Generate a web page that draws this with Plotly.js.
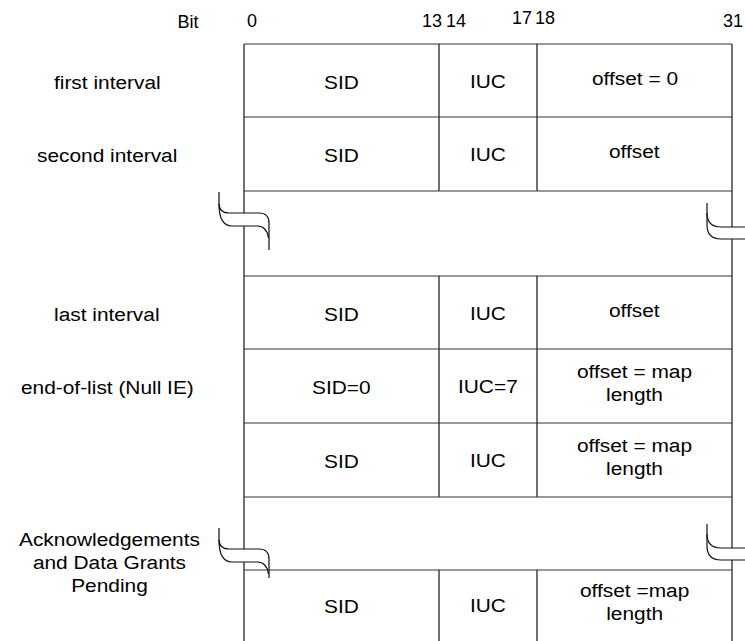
<!DOCTYPE html>
<html>
<head>
<meta charset="utf-8">
<script src="https://cdn.plot.ly/plotly-3.0.1.min.js"></script>
<style>
html,body{margin:0;padding:0;background:#fff;}
#chart{width:745px;height:641px;}
text.annotation-text{transform-box:fill-box;transform-origin:center;transform:scaleX(1.16);}
</style>
</head>
<body>
<div id="chart"></div>
<script>
// ---- data ----
const bitHeader = 'Bit';
const bitLabels = ['0', '13', '14', '17', '18', '31'];
const rowLabels = ['first interval', 'second interval', '', 'last interval', 'end-of-list (Null IE)', '', 'Acknowledgements<br>and Data Grants<br>Pending', ''];
const sidValues = ['SID', 'SID', null, 'SID', 'SID=0', 'SID', null, 'SID'];
const iucValues = ['IUC', 'IUC', null, 'IUC', 'IUC=7', 'IUC', null, 'IUC'];
const offsetValues = ['offset = 0', 'offset', null, 'offset', 'offset = map<br>length', 'offset = map<br>length', null, 'offset =map<br>length'];
const breakRows = [2, 6];

// ---- layout constants (pixel space) ----
const colEdges = [244, 439, 537, 732];
const rowEdges = [44, 117, 191, 276, 349, 423, 497, 570, 660];
const headerX = [188, 252, 432, 456, 522, 545, 733];
const headerY = [23, 22, 22, 22, 19, 19, 22];
const labelX = 107;
const FONT = 'Liberation Sans, Arial, sans-serif';
const FS = 18;
const LINE = '#111';

const shapes = [];
const annotations = [];

function line(x0, y0, x1, y1, color, w) {
  shapes.push({type: 'line', xref: 'x', yref: 'y', x0, y0, x1, y1,
    line: {color: color || LINE, width: w || 1.2}, layer: 'above'});
}
function text(x, y, t) {
  annotations.push({x, y, xref: 'x', yref: 'y', text: t, showarrow: false,
    font: {family: FONT, size: FS, color: '#000'}, xanchor: 'center', yanchor: 'middle'});
}

// rows
const nRows = rowEdges.length - 1;
for (let r = 0; r < nRows; r++) {
  const top = rowEdges[r], bot = rowEdges[r + 1];
  const cy = (top + bot) / 2;
  line(colEdges[0], top, colEdges[3], top, '#333');
  line(colEdges[0], top, colEdges[0], bot);
  line(colEdges[3], top, colEdges[3], bot);
  if (breakRows.indexOf(r) === -1) {
    line(colEdges[1], top, colEdges[1], bot);
    line(colEdges[2], top, colEdges[2], bot);
    const c = Math.min(cy, 605);
    if (sidValues[r]) text((colEdges[0] + colEdges[1]) / 2, c + 1, sidValues[r]);
    if (iucValues[r]) text((colEdges[1] + colEdges[2]) / 2, c, iucValues[r]);
    if (offsetValues[r]) text((colEdges[2] + colEdges[3]) / 2, c - 3, offsetValues[r]);
  }
  if (rowLabels[r] && r !== 6) text(labelX, cy + 1, rowLabels[r]);
}
// multi-line label beside the second break
text(labelX + 2, 562, rowLabels[6]);

// break symbols
function leftBreak(t, len) {
  shapes.push({type: 'path', xref: 'x', yref: 'y', layer: 'above', fillcolor: '#fff', line: {width: 0},
    path: `M 219,${t+11} Q 219,${t+21} 229,${t+21} L 259,${t+21} Q 269,${t+21} 269,${t+31} L 269,${t+46} Q 268,${t+34} 257,${t+34} L 232,${t+34} Q 219,${t+34} 219,${t+16} Z`});
  shapes.push({type: 'path', xref: 'x', yref: 'y', layer: 'above', line: {color: LINE, width: 1.2},
    path: `M 219,${t} L 219,${t+11} Q 219,${t+21} 229,${t+21} L 259,${t+21} Q 269,${t+21} 269,${t+31} L 269,${t+len}`});
  shapes.push({type: 'path', xref: 'x', yref: 'y', layer: 'above', line: {color: LINE, width: 1.2},
    path: `M 219,${t+12} Q 219,${t+34} 232,${t+34} L 257,${t+34} Q 267,${t+34} 268.5,${t+46}`});
}
function rightBreak(u) {
  shapes.push({type: 'path', xref: 'x', yref: 'y', layer: 'above', fillcolor: '#fff', line: {width: 0},
    path: `M 707,${u+10} Q 707,${u+24} 721,${u+24} L 746,${u+24} L 746,${u+36} L 721,${u+36} Q 707,${u+36} 707,${u+22} Z`});
  shapes.push({type: 'path', xref: 'x', yref: 'y', layer: 'above', line: {color: LINE, width: 1.2},
    path: `M 707,${u} L 707,${u+22} Q 707,${u+36} 721,${u+36} L 746,${u+36}`});
  shapes.push({type: 'path', xref: 'x', yref: 'y', layer: 'above', line: {color: LINE, width: 1.2},
    path: `M 707,${u+10} Q 707,${u+24} 721,${u+24} L 746,${u+24}`});
}
leftBreak(192, 58);
rightBreak(203);
leftBreak(528, 50);
rightBreak(524);

// header (bit positions) as a text trace
const headerTrace = {
  type: 'scatter', mode: 'text', hoverinfo: 'skip',
  x: headerX, y: headerY,
  text: [bitHeader].concat(bitLabels),
  textposition: 'middle center',
  textfont: {family: FONT, size: FS, color: '#000'}
};

const layout = {
  width: 745, height: 641,
  margin: {l: 0, r: 0, t: 0, b: 0, pad: 0},
  paper_bgcolor: '#fff', plot_bgcolor: '#fff',
  xaxis: {range: [0, 745], visible: false, fixedrange: true},
  yaxis: {range: [641, 0], visible: false, fixedrange: true},
  shapes, annotations, showlegend: false
};
Plotly.newPlot('chart', [headerTrace], layout, {staticPlot: true, displayModeBar: false});
</script>
</body>
</html>
